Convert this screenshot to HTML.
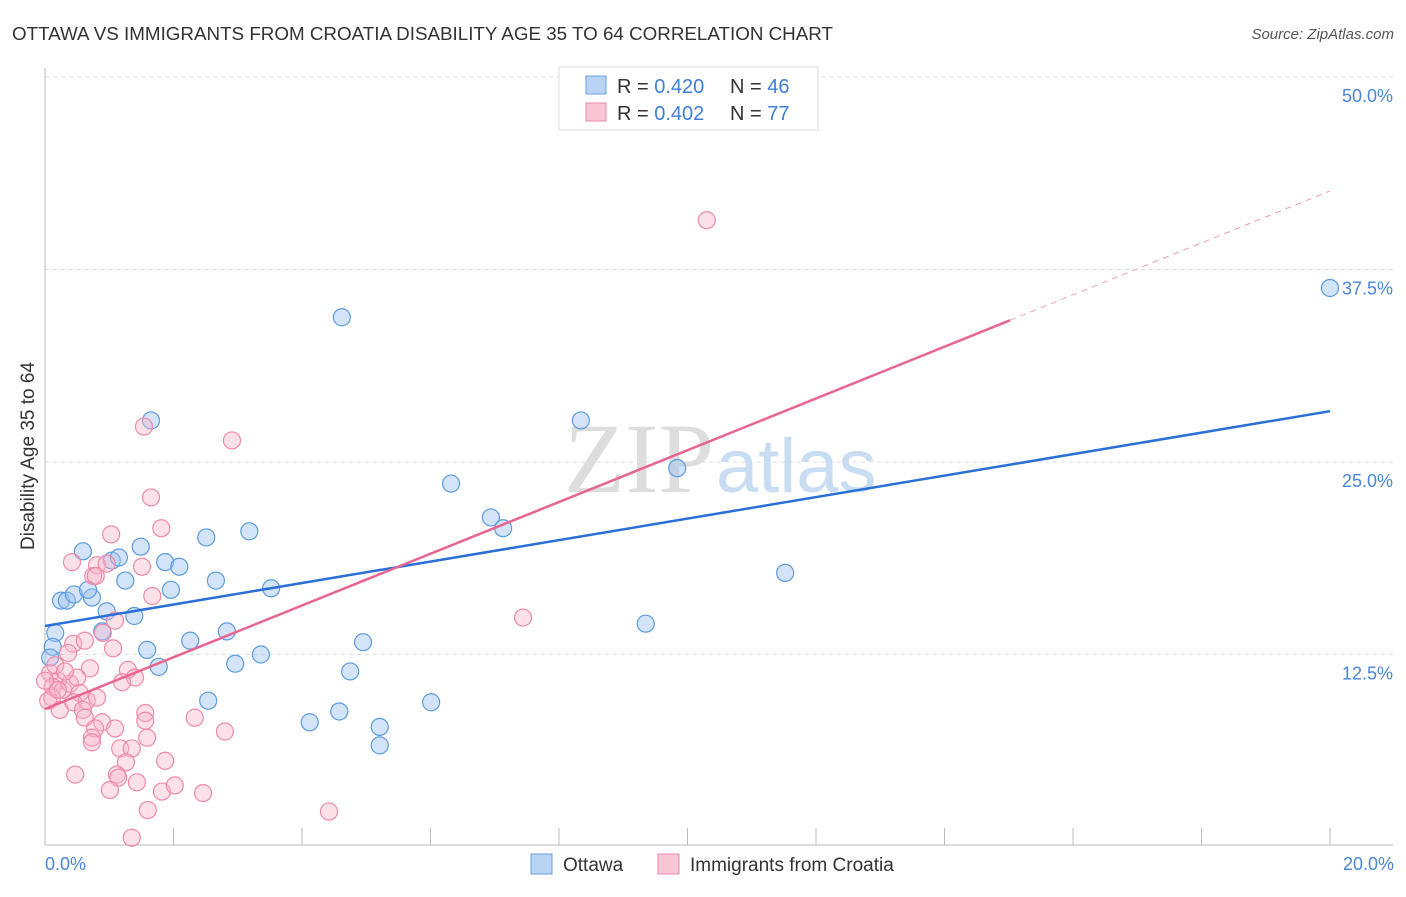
<!DOCTYPE html>
<html><head><meta charset="utf-8"><style>
body{margin:0;background:#fff;font-family:"Liberation Sans",sans-serif}
</style></head><body>
<svg width="1406" height="892" xmlns="http://www.w3.org/2000/svg" font-family="Liberation Sans, sans-serif">
<text x="12" y="40" font-size="18" fill="#333" textLength="821" lengthAdjust="spacingAndGlyphs">OTTAWA VS IMMIGRANTS FROM CROATIA DISABILITY AGE 35 TO 64 CORRELATION CHART</text>
<text x="1394" y="39" font-size="15" fill="#555" font-style="italic" text-anchor="end">Source: ZipAtlas.com</text>
<g id="grid"></g>
<text x="714" y="492" font-size="100" font-family="Liberation Serif, serif" fill="#ddd" text-anchor="end">ZIP</text>
<text x="716" y="492" font-size="76" fill="#c8dcf2">atlas</text>
<g id="axes"></g>
<g id="pts"></g>
<g id="lines"></g>
<text x="34" y="456" font-size="19" fill="#333" text-anchor="middle" transform="rotate(-90 34 456)">Disability Age 35 to 64</text>
<text x="45" y="870" font-size="18" fill="#4a86d8">0.0%</text>
<text x="1394" y="870" font-size="18" fill="#4a86d8" text-anchor="end">20.0%</text>
<g>
<rect x="559" y="67" width="259" height="63" fill="#fff" stroke="#ddd"/>
<rect x="586" y="76" width="20" height="18" fill="#b8d3f3" stroke="#6a9fe0"/>
<rect x="586" y="103" width="20" height="18" fill="#f9c6d5" stroke="#ee8aa8"/>
<text x="617" y="93" font-size="20" fill="#333">R = <tspan fill="#3d7fd9">0.420</tspan></text>
<text x="730" y="93" font-size="20" fill="#333">N = <tspan fill="#3d7fd9">46</tspan></text>
<text x="617" y="120" font-size="20" fill="#333">R = <tspan fill="#3d7fd9">0.402</tspan></text>
<text x="730" y="120" font-size="20" fill="#333">N = <tspan fill="#3d7fd9">77</tspan></text>
</g>
<g>
<rect x="531" y="854" width="21" height="20" fill="#b8d3f3" stroke="#6a9fe0"/>
<text x="563" y="871" font-size="19" fill="#333">Ottawa</text>
<rect x="658" y="854" width="21" height="20" fill="#f9c6d5" stroke="#ee8aa8"/>
<text x="690" y="871" font-size="19" fill="#333">Immigrants from Croatia</text>
</g>
</svg>
<script>
const yTicks=[12.5,25,37.5,50];
const yTickLabels=["12.5%","25.0%","37.5%","50.0%"];
const blueX=[0.16,0.12,0.08,0.59,0.25,0.34,0.45,0.73,0.67,0.96,0.89,1.04,1.15,1.25,1.39,1.49,1.59,1.65,1.77,1.87,1.96,2.09,2.26,2.51,2.54,2.66,2.83,2.96,3.18,3.36,3.52,4.12,4.58,4.62,4.75,4.95,5.21,5.21,6.01,6.32,6.94,7.13,8.34,9.35,9.84,11.52,20.0];
const blueY=[13.9,13.0,12.3,19.2,16.0,16.0,16.4,16.2,16.7,15.3,14.0,18.6,18.8,17.3,15.0,19.5,12.8,27.7,11.7,18.5,16.7,18.2,13.4,20.1,9.5,17.3,14.0,11.9,20.5,12.5,16.8,8.1,8.8,34.4,11.4,13.3,7.8,6.6,9.4,23.6,21.4,20.7,27.7,14.5,24.6,17.8,36.3];
const pinkX=[1.03,1.81,0.42,0.81,0.96,1.51,0.75,1.67,1.09,0.90,0.44,1.06,0.36,0.70,1.29,1.40,1.20,0.08,0.20,0.12,0.28,0.11,0.39,0.50,0.54,0.23,0.44,0.65,0.81,0.59,0.62,0.89,0.78,1.09,0.73,0.73,1.56,1.56,2.33,2.80,1.59,1.17,1.35,1.26,1.87,0.47,1.12,1.14,1.43,1.01,1.82,2.02,2.46,1.60,1.35,1.54,2.91,1.65,10.30,7.44,4.42,0.16,0.05,0.31,0.20,0.0,0.62,0.79];
const pinkY=[20.3,20.7,18.5,18.3,18.4,18.2,17.6,16.3,14.7,13.9,13.2,12.9,12.6,11.6,11.5,11.0,10.7,11.3,10.8,10.4,10.2,9.7,10.6,11.0,10.0,8.9,9.4,9.5,9.7,8.9,8.4,8.1,7.7,7.7,7.1,6.8,8.7,8.2,8.4,7.5,7.1,6.4,6.4,5.5,5.6,4.7,4.7,4.5,4.2,3.7,3.6,4.0,3.5,2.4,0.6,27.3,26.4,22.7,40.7,14.9,2.3,11.8,9.5,11.4,10.2,10.8,13.4,17.6];
const blueLine=[[0,14.35],[20,28.3]];
const pinkLine=[[0,8.96],[15.02,34.2]];
const pinkDash=[[15.02,34.2],[20,42.6]];
const xTicks=[0,2,4,6,8,10,12,14,16,18,20];
const NS="http://www.w3.org/2000/svg";
const X=v=>45+v/20*1285, Y=v=>847-v/12.5*192.5;
function mk(p,t,a){const e=document.createElementNS(NS,t);for(const k in a)e.setAttribute(k,a[k]);document.getElementById(p).appendChild(e);return e;}
yTicks.forEach((t,i)=>{
 const g=mk('grid','line',{x1:45,x2:1393,y1:Y(t),y2:Y(t),stroke:'#ddd','stroke-dasharray':'4,4'});
 
 
 const l=mk('grid','text',{x:1393,y:Y(t)+25,'font-size':18,fill:'#4a86d8','text-anchor':'end'});
 l.textContent=yTickLabels[i];
 
 
});
const ax=mk('axes','line',{x1:45,x2:45,y1:68,y2:845,stroke:'#bbb'});


const bx=mk('axes','line',{x1:45,x2:1393,y1:845,y2:845,stroke:'#bbb'});


xTicks.forEach(t=>{
 const e=mk('axes','line',{x1:X(t),x2:X(t),y1:828,y2:845,stroke:'#bbb'});
 
 
});
blueX.forEach((v,i)=>{
 const c=mk('pts','circle',{cx:X(v),cy:Y(blueY[i]),r:8.5,fill:'rgba(160,196,240,0.45)',stroke:'#5b9be0','stroke-width':1.2});
 
 
});
pinkX.forEach((v,i)=>{
 const c=mk('pts','circle',{cx:X(v),cy:Y(pinkY[i]),r:8.5,fill:'rgba(248,180,200,0.4)',stroke:'#ee8aa8','stroke-width':1.2});
 
 
});
function ln(d,col,dash,name){
 const e=mk('lines','line',{x1:X(d[0][0]),y1:Y(d[0][1]),x2:X(d[1][0]),y2:Y(d[1][1]),stroke:col,'stroke-width':dash?1:2.5});
 if(dash)e.setAttribute('stroke-dasharray','6,5');
 
 
}
ln(blueLine,'#2a6fd6',false,'ottawa-trend-line');
ln(pinkLine,'#e86590',false,'croatia-trend-line');
ln(pinkDash,'#eea0b8',true,'croatia-trend-extension');
</script>
</body></html>
